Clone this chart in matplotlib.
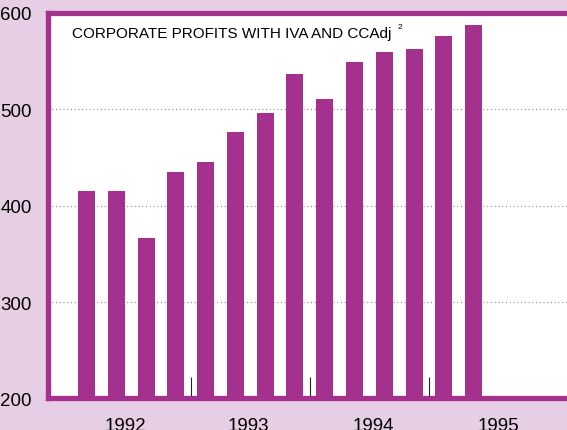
import matplotlib
matplotlib.use("Agg")
import matplotlib.pyplot as plt
import numpy as np

### Data (corporate profits with IVA and CCAdj, quarterly)
quarters = ['92Q1', '92Q2', '92Q3', '92Q4',
            '93Q1', '93Q2', '93Q3', '93Q4',
            '94Q1', '94Q2', '94Q3', '94Q4',
            '95Q1', '95Q2']
profits = [415, 415, 366, 435,
           445, 476, 496, 537,
           511, 549, 559, 563,
           576, 587]
years = ['1992', '1993', '1994', '1995']
year_pos = [1.3, 5.45, 9.65, 13.85]
year_breaks = [3.5, 7.5, 11.5]
y_ticks = [200, 300, 400, 500, 600]

### Style
purple = '#A5318F'
lavender = '#E6CEE4'
plt.rcParams['font.family'] = ['Liberation Sans', 'DejaVu Sans']

fig = plt.figure(figsize=(5.67, 4.31), dpi=100, facecolor=lavender)
ax = fig.add_axes([0.0838, 0.0731, 0.93, 0.8946])
ax.set_facecolor('white')

x = np.arange(len(quarters))
ax.bar(x, profits, width=0.57, color=purple, zorder=2)

# dotted grid
ax.set_axisbelow(True)
for v in y_ticks[1:-1]:
    ax.axhline(v, color='#8a8a8a', linewidth=0.9, linestyle=(0, (0.8, 2.2)), zorder=0)

ax.set_ylim(200, 600)
ax.set_xlim(-1.31, 16.4)

# spines
for s in ['left', 'top', 'bottom']:
    ax.spines[s].set_color(purple)
    ax.spines[s].set_linewidth(3.8)
    ax.spines[s].set_zorder(3)
ax.spines['right'].set_visible(False)

# y axis
ax.set_yticks(y_ticks)
ax.set_yticklabels([str(v) for v in y_ticks])
ax.tick_params(axis='y', length=0, pad=11.5, labelsize=13.5, colors='black')

# x axis: year breaks as inward ticks, years as minor labels
ax.set_xticks(year_breaks)
ax.set_xticklabels([])
ax.tick_params(axis='x', which='major', direction='in', length=15, width=0.8,
               color='#222222')
ax.set_xticks(year_pos, minor=True)
ax.set_xticklabels(years, minor=True)
ax.tick_params(axis='x', which='minor', length=0, pad=13.5, labelsize=13.5)

# title inside the plot
ax.text(0.0465, 0.9367, 'CORPORATE PROFITS WITH IVA AND CCAdj', transform=ax.transAxes,
        fontsize=11, va='baseline', ha='left')
ax.text(0.664, 0.961, '2', transform=ax.transAxes, fontsize=6, va='baseline', ha='left')

fig.savefig('out.png', dpi=100, facecolor=lavender)
